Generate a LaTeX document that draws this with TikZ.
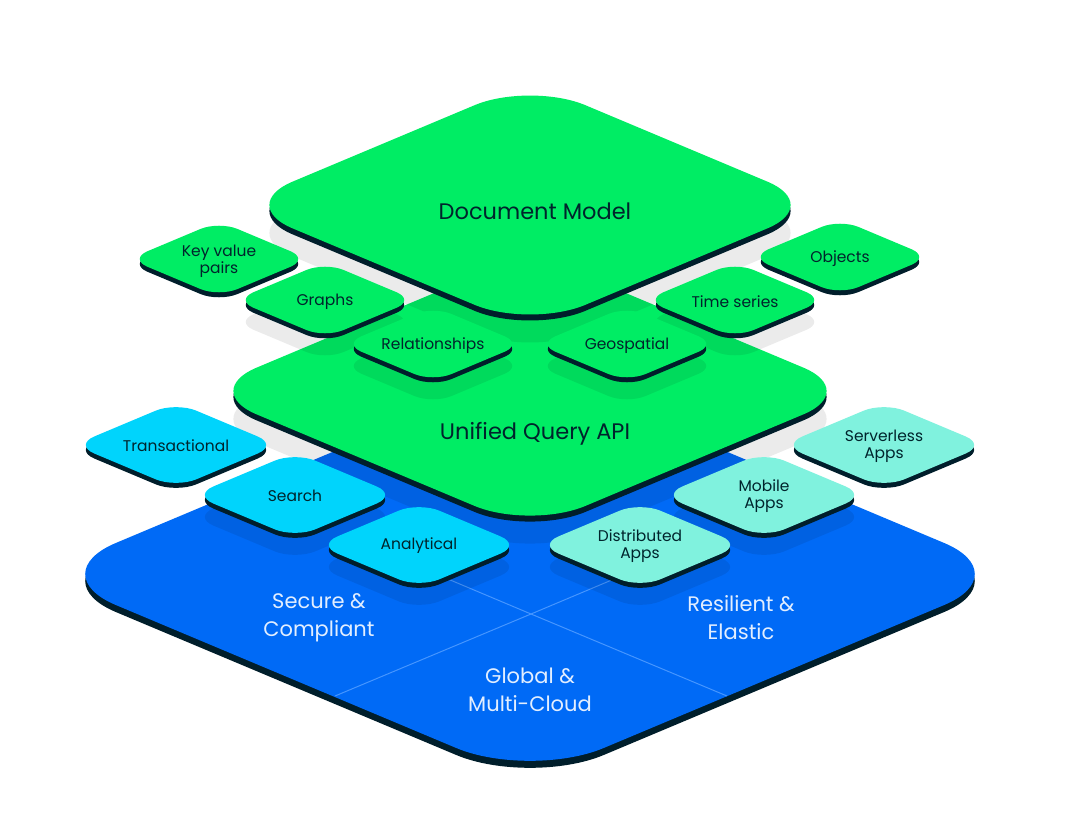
\documentclass[tikz,border=0pt]{standalone}
\usepackage{fontspec}
\setmainfont{Poppins}
\usepackage{tikz}
\definecolor{mdbgreen}{RGB}{0,237,100}
\definecolor{mdbblue}{RGB}{0,106,246}
\definecolor{mdbcyan}{RGB}{0,212,252}
\definecolor{mdbmint}{RGB}{128,242,222}
\definecolor{mdbrim}{RGB}{0,30,43}
\definecolor{mdbink}{RGB}{0,36,44}
\definecolor{mdbpale}{RGB}{226,238,255}
\definecolor{mdbline}{RGB}{70,150,255}

\tikzset{
  rim/.style={fill=mdbrim},
  shadowfill/.style={fill=black, fill opacity=0.08},
  tiletext/.style={text=mdbink, align=center, font=\fontsize{15.5}{17}\selectfont},
  layertext/.style={text=mdbink, font=\fontsize{22.5}{28}\selectfont},
  basetext/.style={text=mdbpale, align=center, font=\fontsize{21}{28}\selectfont},
  splitline/.style={mdbline, line width=1pt}
}

% raised tile: centre x, centre y, half width, corner, rim depth, colour
\newcommand{\slab}[6]{%
  \begin{scope}[shift={(#1,#2)}, rounded corners=#4pt]
    \fill[rim] ({-#3/2},{#5-0.21*#3}) -- (0,{#5-0.42*#3}) -- (#3,#5) -- (0,{#5+0.42*#3}) -- (-#3,#5) -- cycle;
    \fill[#6] ({-#3/2},{-0.21*#3}) -- (0,{-0.42*#3}) -- (#3,0) -- (0,{0.42*#3}) -- (-#3,0) -- cycle;
  \end{scope}}
% flat shadow of a tile: centre x, centre y, half width, corner
\newcommand{\dropshadow}[4]{%
  \fill[shadowfill, rounded corners=#4pt, shift={(#1,#2)}] ({-#3/2},{-0.21*#3}) -- (0,{-0.42*#3}) -- (#3,0) -- (0,{0.42*#3}) -- (-#3,0) -- cycle;}

\begin{document}
\begin{tikzpicture}[x=1pt, y=-1pt]
    \fill[white] (0,0) rectangle (1080,838);
    \useasboundingbox (0,0) rectangle (1080,838);
    % Base layer
    \slab{530}{574}{488}{80}{7}{mdbblue}
    \coordinate (split) at (531,614);
    \coordinate (splitnw) at (436,574);
    \coordinate (splitne) at (626,574);
    \coordinate (splitsw) at (335,696);
    \coordinate (splitse) at (727,696);
    \draw[splitline] (splitnw) -- (split) -- (splitse);
    \draw[splitline] (splitne) -- (split) -- (splitsw);
    \node[basetext] (secure) at (319,618) {Secure \&\\Compliant};
    \node[basetext] (resilient) at (741,618) {Resilient \&\\Elastic};
    \node[basetext] (global) at (530,690) {Global \&\\Multi-Cloud};
    % Shadows on the base
    \foreach \x/\y in {295/495, 419/545, 640/545, 764/495} {\dropshadow{\x}{\y+22}{102}{22}}
    \dropshadow{530}{391+28}{329}{60}
    % Workload tiles
    \foreach \x/\y in {176/445, 295/495, 419/545} {\slab{\x}{\y}{102}{22}{5}{mdbcyan}}
    \foreach \x/\y in {640/545, 764/495, 884/445} {\slab{\x}{\y}{102}{22}{5}{mdbmint}}
    \node[tiletext] (transactional) at (176,446) {Transactional};
    \node[tiletext] (search) at (295,496) {Search};
    \node[tiletext] (analytical) at (419,546) {Analytical};
    \node[tiletext] (distributed) at (640,546) {Distributed\\Apps};
    \node[tiletext] (mobile) at (764,496) {Mobile\\Apps};
    \node[tiletext] (serverless) at (884,446) {Serverless\\Apps};
    % Query layer
    \slab{530}{391}{329}{60}{6}{mdbgreen}
    \node[layertext] (query) at (535,434) {Unified Query API};
    % Data model tiles
    \dropshadow{530}{205+28}{293}{60}
    \foreach \x/\y in {325/300, 433/344, 627/344, 735/300} {\dropshadow{\x}{\y+22}{90}{20}}
    \foreach \x/\y in {219/259, 325/300, 433/344, 627/344, 735/300, 840/257} {\slab{\x}{\y}{90}{20}{5}{mdbgreen}}
    \node[tiletext] (keyvalue) at (219,261) {Key value\\pairs};
    \node[tiletext] (graphs) at (325,302) {Graphs};
    \node[tiletext] (relationships) at (433,346) {Relationships};
    \node[tiletext] (geospatial) at (627,346) {Geospatial};
    \node[tiletext] (timeseries) at (735,302) {Time series};
    \node[tiletext] (objects) at (840,259) {Objects};
    % Document layer
    \slab{530}{205}{293}{60}{6}{mdbgreen}
    \node[layertext] (document) at (535,211) {Document Model};
\end{tikzpicture}
\end{document}
